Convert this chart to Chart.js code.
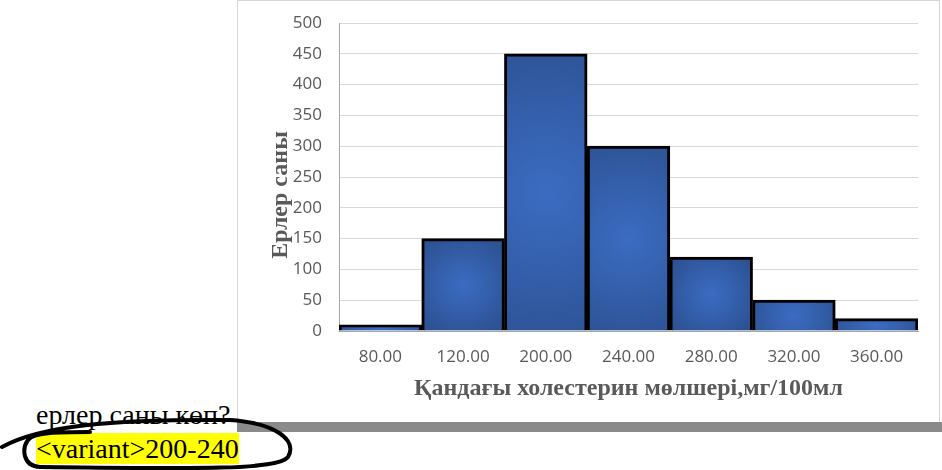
<!DOCTYPE html>
<html>
<head>
<meta charset="utf-8">
<script src="https://cdn.jsdelivr.net/npm/chart.js@4"></script>
<style>
  html, body { margin:0; padding:0; background:#fff; }
  body { width:942px; height:470px; position:relative; overflow:hidden; }
  #frame { position:absolute; left:237px; top:0; width:703px; height:422px; box-sizing:border-box;
           border:1px solid #d6d6d6; border-bottom:none; background:#fff; }
  #wrap { position:absolute; left:238px; top:1px; width:701px; height:421px; }
  #shadow { position:absolute; left:237px; top:422px; width:705px; height:10px; background:#8a8a8a; }
  #q { position:absolute; left:36px; top:401px; font-family:"Liberation Serif","Times New Roman",serif;
       font-size:28px; line-height:1; color:#000; white-space:nowrap; }
  #ans { position:absolute; left:36px; top:433px; height:31px; line-height:31px; background:#ffff00;
         font-family:"Liberation Serif","Times New Roman",serif; font-size:28px; color:#000; white-space:nowrap; }
  svg { position:absolute; left:0; top:0; pointer-events:none; }
</style>
</head>
<body>
<div id="frame"></div>
<div id="wrap"><canvas id="c" width="701" height="421"></canvas></div>
<div id="shadow"></div>
<div id="q">ерлер саны көп?</div>
<div id="ans">&lt;variant&gt;200-240</div>
<svg width="942" height="470">
  <path d="M 2 447 C 40 426, 110 419, 230 420 C 275 423, 298 440, 288 457 C 278 470, 200 469, 40 467 C 22 466, 22 448, 28 440 C 34 432, 60 432, 90 432"
        fill="none" stroke="#000" stroke-width="4" stroke-linecap="round"/>
</svg>
<script>
const categories = ['80.00','120.00','200.00','240.00','280.00','320.00','360.00'];
const counts = [10, 150, 450, 300, 120, 50, 20];
const yTicks = { min: 0, max: 500, step: 50 };
const xTitle = 'Қандағы холестерин мөлшері,мг/100мл';
const yTitle = 'Ерлер саны';

const tickFont = { family: '"Open Sans", Lato, sans-serif', size: 17 };
const titleFont = { family: '"Liberation Serif", "Times New Roman", serif', size: 24, weight: 'bold' };

function barFill(c) {
  const chart = c.chart;
  const { ctx, chartArea, scales } = chart;
  if (!chartArea || c.type !== 'data' || !scales.x || !scales.y) return '#3562AD';
  const x = scales.x.getPixelForValue(c.dataIndex);
  const y0 = scales.y.getPixelForValue(0);
  const y1 = scales.y.getPixelForValue(c.raw);
  const cy = (y0 + y1) / 2;
  const r = Math.max(Math.abs(y0 - y1) / 2, 42) * 1.15;
  const g = ctx.createRadialGradient(x, cy, 0, x, cy, r);
  g.addColorStop(0, '#3B6CC2');
  g.addColorStop(1, '#2D5294');
  return g;
}

new Chart(document.getElementById('c'), {
  type: 'bar',
  data: {
    labels: categories,
    datasets: [{
      data: counts,
      backgroundColor: barFill,
      borderColor: '#000000',
      borderWidth: 3,
      barPercentage: 1,
      categoryPercentage: 1
    }]
  },
  options: {
    responsive: false,
    animation: false,
    layout: { padding: { top: 22, right: 21, left: 0, bottom: 0 } },
    plugins: { legend: { display: false }, tooltip: { enabled: false } },
    scales: {
      x: {
        grid: { display: false },
        border: { display: true, color: '#a6a6a6', width: 1 },
        ticks: { font: tickFont, color: '#595959', padding: 8, maxRotation: 0 },
        title: { display: true, text: xTitle, font: titleFont, color: '#595959', padding: { top: 0, bottom: 19 } },
        afterFit: (s) => { s.height = 91; }
      },
      y: {
        min: yTicks.min, max: yTicks.max,
        grid: { color: '#d9d9d9', lineWidth: 1, drawTicks: false },
        border: { display: true, color: '#a6a6a6', width: 1 },
        ticks: { stepSize: yTicks.step, font: tickFont, color: '#595959', padding: 17 },
        title: { display: true, text: yTitle + '      ', font: titleFont, color: '#595959', padding: { top: 28, bottom: 0 } },
        afterFit: (s) => { s.width = 101; s.paddingTop = 0; s.paddingBottom = 0; }
      }
    }
  }
});
</script>
</body>
</html>
